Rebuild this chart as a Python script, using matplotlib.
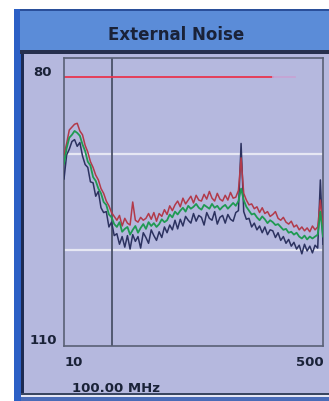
import matplotlib
matplotlib.use("Agg")
import matplotlib.pyplot as plt
from matplotlib.patches import Rectangle

# sweep points, MHz
freq = [10, 15, 20, 25, 30, 35, 40, 45, 50, 55, 60, 65,
        70, 75, 80, 85, 90, 95, 100, 105, 110, 115, 120, 125,
        130, 135, 140, 145, 150, 155, 160, 165, 170, 175, 180, 185,
        190, 195, 200, 205, 210, 215, 220, 225, 230, 235, 240, 245,
        250, 255, 260, 265, 270, 275, 280, 285, 290, 295, 300, 305,
        310, 315, 320, 325, 330, 335, 340, 345, 350, 355, 360, 365,
        370, 375, 380, 385, 390, 395, 400, 405, 410, 415, 420, 425,
        430, 435, 440, 445, 450, 455, 460, 465, 470, 475, 480, 485,
        490, 495, 500]

# average trace (green)
avg_level = [91.0, 89.4, 88.3, 88.0, 87.6, 87.8, 88.1, 89.0, 89.7, 90.8, 91.2, 92.4,
             92.8, 93.6, 94.1, 95.0, 95.3, 96.3, 96.6, 97.3, 97.6, 97.1, 98.1, 97.8,
             97.6, 98.4, 97.9, 97.5, 98.2, 97.7, 97.3, 97.8, 97.1, 97.5, 97.2, 97.6,
             97.3, 96.8, 97.1, 96.9, 96.3, 96.6, 96.0, 96.3, 95.9, 95.6, 96.0, 95.4,
             95.7, 95.5, 95.2, 95.6, 95.8, 95.3, 95.5, 95.7, 95.2, 95.6, 95.4, 95.8,
             95.5, 95.3, 95.7, 95.4, 95.1, 95.4, 94.9, 93.6, 94.8, 95.5, 95.9, 96.3,
             96.2, 96.6, 96.9, 96.5, 96.8, 97.2, 96.9, 97.1, 97.4, 97.3, 97.6, 97.9,
             97.8, 98.2, 98.1, 98.4, 98.2, 98.6, 98.8, 98.5, 98.9, 98.6, 98.8, 98.6,
             98.4, 96.0, 98.6]

# max hold trace (red)
max_level = [90.1, 88.9, 87.5, 87.2, 86.9, 86.8, 87.6, 88.0, 89.1, 89.8, 90.8, 91.4,
             92.2, 92.7, 93.6, 94.1, 94.9, 95.4, 96.1, 96.5, 96.9, 96.4, 97.5, 96.7,
             97.2, 97.4, 95.0, 96.9, 97.1, 96.6, 96.9, 96.7, 96.2, 96.8, 96.1, 97.0,
             96.2, 96.5, 95.8, 96.3, 95.4, 95.9, 95.3, 94.9, 95.5, 94.6, 95.2, 94.8,
             94.4, 95.1, 94.3, 94.8, 94.9, 94.2, 94.7, 93.9, 94.6, 94.9, 94.1, 94.7,
             94.9, 94.3, 94.8, 94.0, 94.6, 94.5, 93.8, 90.4, 94.1, 94.8, 95.3, 95.2,
             95.7, 95.5, 96.1, 95.6, 96.2, 96.0, 96.5, 96.3, 96.0, 96.7, 96.9, 96.6,
             97.1, 97.3, 97.0, 97.6, 97.4, 97.9, 97.6, 98.0, 97.7, 98.1, 97.5, 97.9,
             97.6, 94.8, 97.7]

# min hold trace (dark)
min_level = [92.6, 90.1, 89.5, 88.7, 88.5, 89.2, 88.8, 90.2, 91.1, 91.4, 92.9, 93.0,
             94.4, 93.9, 95.6, 96.1, 96.0, 97.6, 97.1, 98.5, 98.3, 99.4, 98.6, 99.7,
             98.5, 99.9, 98.4, 99.1, 98.6, 99.8, 98.2, 98.7, 99.3, 97.9, 98.5, 99.0,
             98.1, 98.7, 97.6, 98.2, 97.4, 97.9, 96.9, 97.8, 96.8, 97.5, 96.5, 96.9,
             97.2, 96.2, 97.0, 96.4, 96.6, 97.4, 96.1, 96.7, 96.9, 96.0, 97.3, 96.6,
             96.4, 97.2, 96.3, 96.8, 97.0, 96.1, 95.9, 88.9, 96.0, 96.8, 96.7, 97.6,
             97.2, 97.9, 97.5, 98.2, 97.6, 98.4, 97.9, 98.0, 98.7, 98.2, 99.0, 98.6,
             99.3, 98.9, 99.6, 99.2, 99.9, 99.5, 100.4, 99.4, 100.1, 99.6, 100.3, 99.5,
             99.8, 92.7, 99.4]

limit_level = 82
limit_span = [10, 405]
grid_levels = [90, 100]
marker_freq = 100

W, H = 329, 401
fig = plt.figure(figsize=(W / 100, H / 100), dpi=100)
fig.patch.set_facecolor("white")


def box(x0, y0, x1, y1, color, z=0):
    # pixel box (top-left origin) -> figure fraction
    fig.add_artist(Rectangle((x0 / W, 1 - y1 / H), (x1 - x0) / W, (y1 - y0) / H,
                             transform=fig.transFigure, facecolor=color,
                             edgecolor="none", zorder=z))


# window frame
box(14, 9, W, H, "#2c60c6")
box(20, 10, W, 50, "#5b8cd8")
box(20, 9, W, 10.5, "#2a4f9a")
box(20, 50, W, 54, "#27304e")
box(21, 54, W, 397, "#b5b8de")
box(21, 54, 23.5, 394, "#1c2a52")
box(21, 393, W, 394.5, "#3a4660")
box(21, 394.5, W, 396.5, "#e4e6f4")
box(21, 396.5, W, H, "#4a6cb8")

fig.text(176 / W, 1 - 35 / H, "External Noise", ha="center", va="center",
         fontsize=12, fontweight="bold", color="#1a2238")

ax = fig.add_axes([64 / W, 1 - 346 / H, 259 / W, 288 / H])
ax.set_facecolor("#b5b8de")
ax.set_xlim(10, 500)
ax.set_ylim(110, 80)
ax.set_xticks([])
ax.set_yticks([])
for s in ax.spines.values():
    s.set_color("#596075")
    s.set_linewidth(1.2)

for g in grid_levels:
    ax.axhline(g, color="#e6e7f3", lw=1.6, zorder=1)
ax.axvline(marker_freq, color="#4a5168", lw=1.3, zorder=2)
ax.plot(limit_span, [limit_level, limit_level], color="#e8354f", lw=1.3, zorder=2)
ax.plot([limit_span[1], 447], [limit_level, limit_level], color="#c6a4d4", lw=1.3, zorder=2)

ax.plot(freq, min_level, color="#2c3260", lw=1.1, zorder=3)
ax.plot(freq, max_level, color="#b23a4a", lw=1.1, zorder=4)
ax.plot(freq, avg_level, color="#1f9a52", lw=1.3, zorder=5)

lab = dict(fontsize=9.5, fontweight="bold", color="#1a2238", va="center")
fig.text(42 / W, 1 - 73 / H, "80", ha="center", **lab)
fig.text(43 / W, 1 - 340 / H, "110", ha="center", **lab)
fig.text(74 / W, 1 - 363 / H, "10", ha="center", **lab)
fig.text(310 / W, 1 - 363 / H, "500", ha="center", **lab)
fig.text(72 / W, 1 - 388 / H, "100.00 MHz", ha="left", **lab)

fig.savefig("out.png", dpi=100)
